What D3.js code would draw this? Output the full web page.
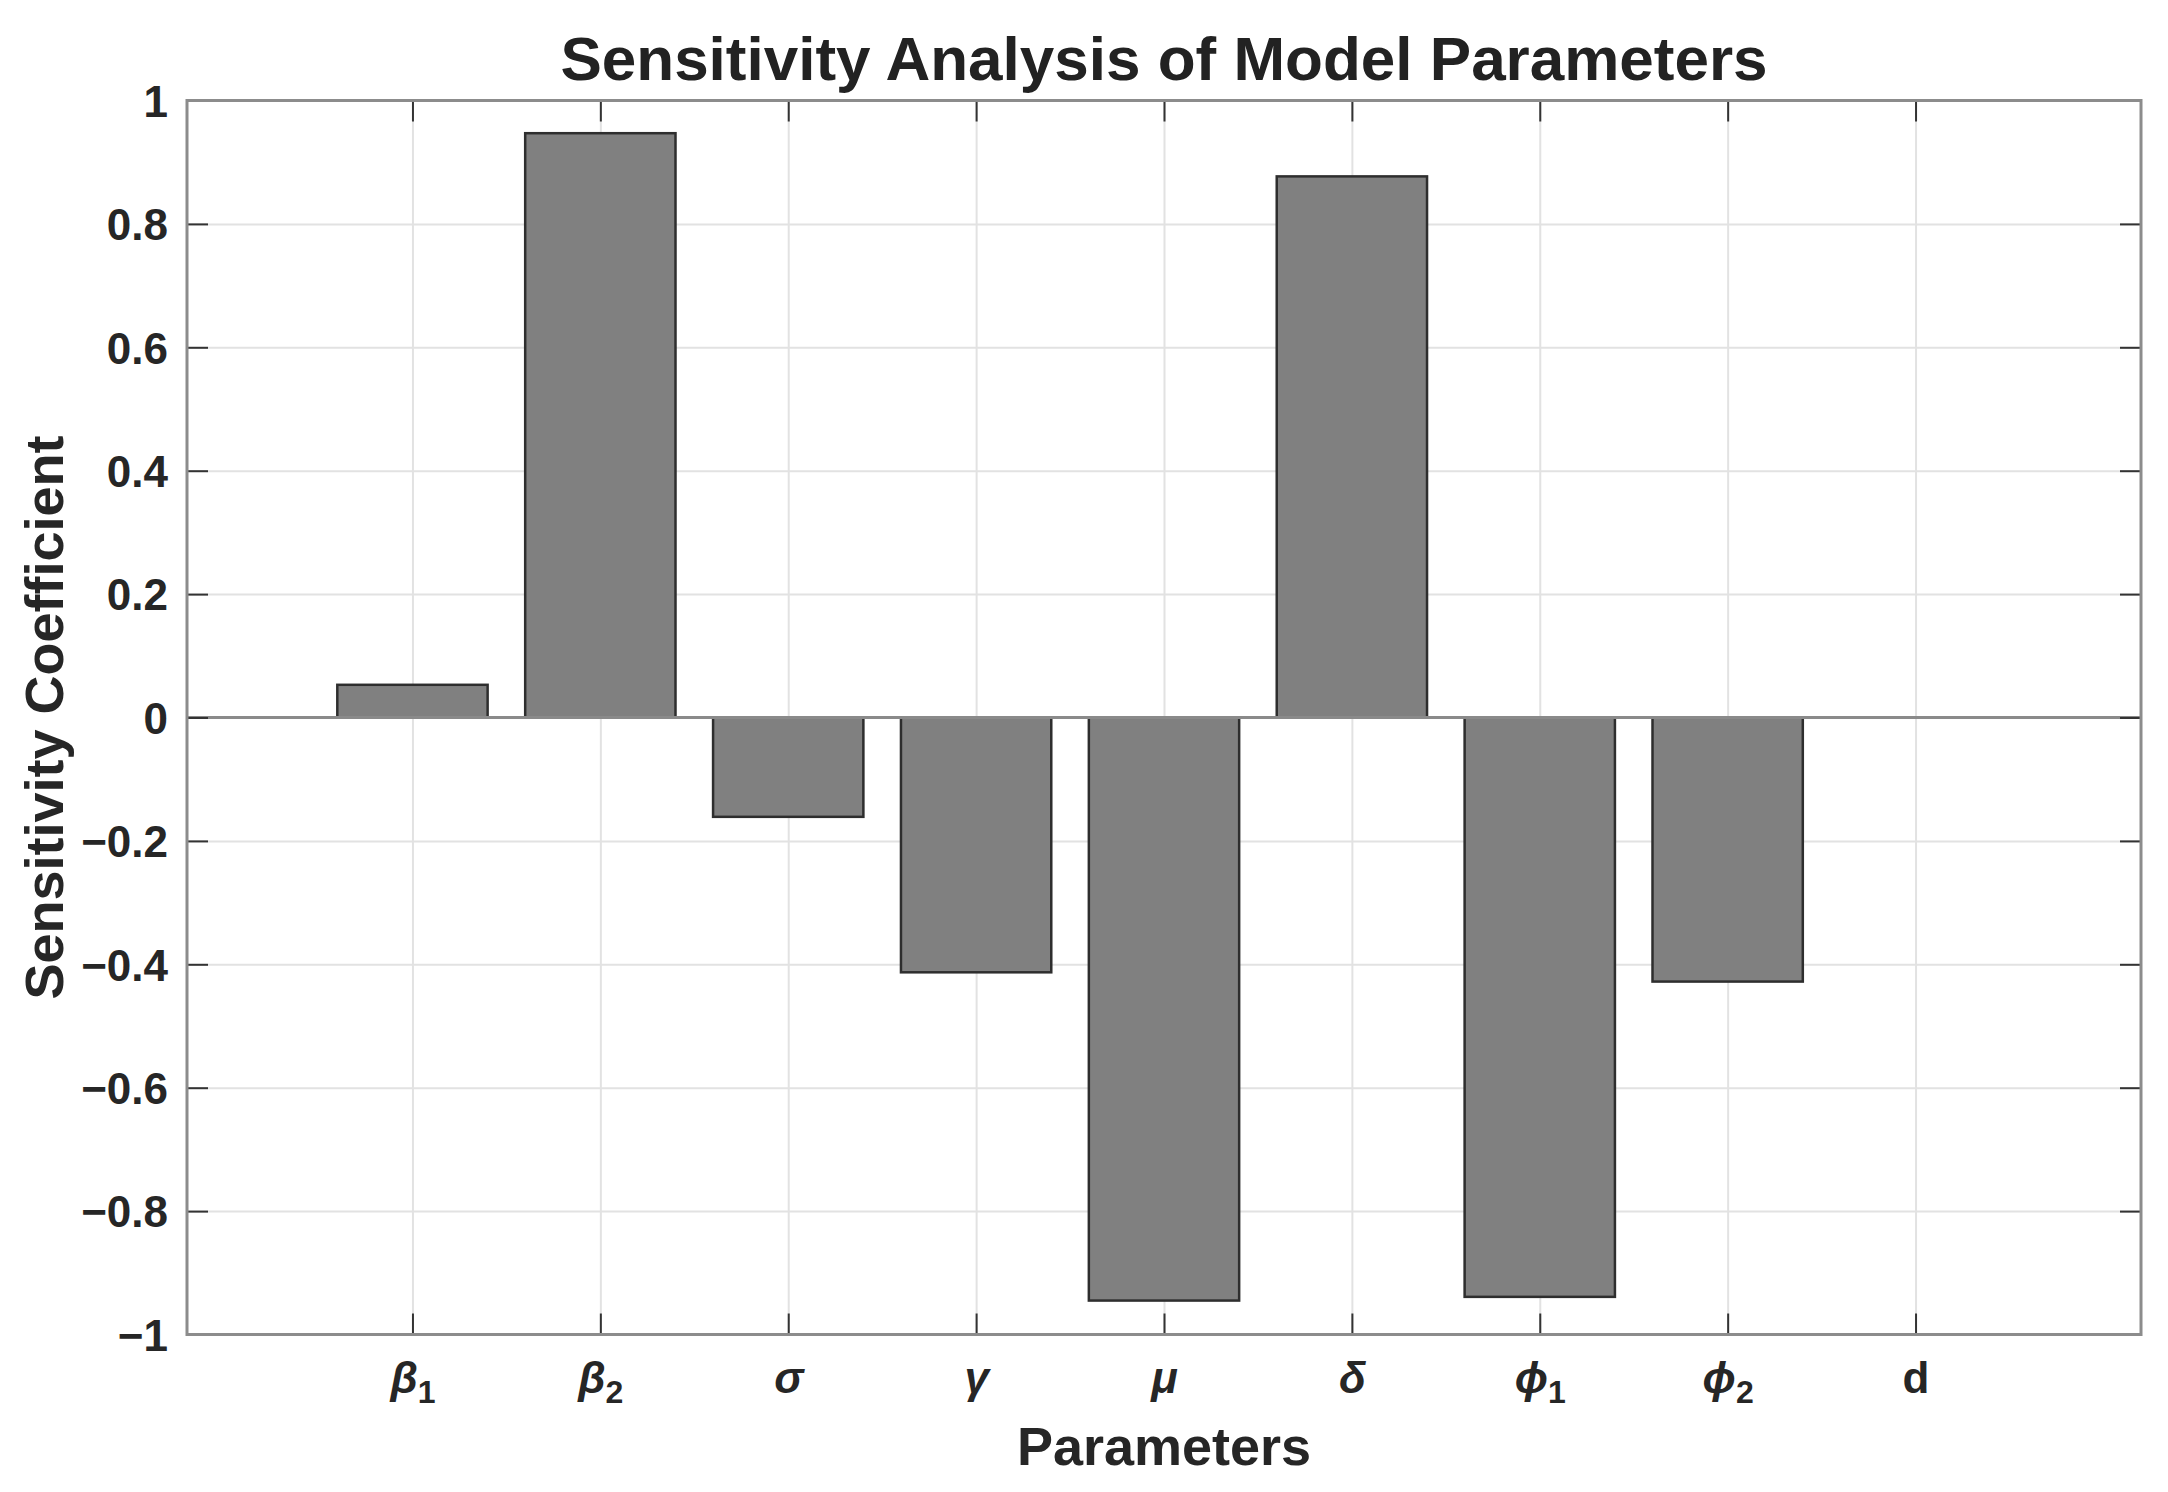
<!DOCTYPE html>
<html lang="en">
<head>
    <meta charset="UTF-8">
    <title>Sensitivity Analysis of Model Parameters</title>
    <script src="https://d3js.org/d3.v7.min.js"></script>
    <style>
        body {
            margin: 0;
            background: #ffffff;
        }

        svg {
            font-family: "Liberation Sans", Arial, Helvetica, sans-serif;
            font-weight: bold;
        }

        .grid line {
            stroke: #e2e2e2;
            stroke-width: 2px;
        }

        .grid path {
            display: none;
        }

        .ticks line {
            stroke: #333333;
            stroke-width: 2px;
        }

        .ticks path {
            display: none;
        }

        .tick-label {
            font-size: 44px;
            fill: #262626;
        }

        .bar {
            fill: #808080;
            stroke: #2e2e2e;
            stroke-width: 2.5px;
        }
    </style>
</head>
<body>
    <div id="chart"></div>

    <script>
        // Parameters along the x axis (symbol + subscript)
        const paramSymbols = ["β", "β", "σ", "γ", "μ", "δ", "ϕ", "ϕ", "d"];
        const paramSubscripts = ["1", "2", "", "", "", "", "1", "2", ""];
        const paramItalic = [true, true, true, true, true, true, true, true, false];

        // Sensitivity coefficient per parameter
        const sensitivity = [0.053, 0.947, -0.161, -0.413, -0.945, 0.877, -0.939, -0.428, 0];

        // Y axis ticks
        const yTicks = [-1, -0.8, -0.6, -0.4, -0.2, 0, 0.2, 0.4, 0.6, 0.8, 1];

        const totalWidth = 2168;
        const totalHeight = 1492;
        const margin = { top: 100.5, right: 27, bottom: 157.5, left: 187 };
        const width = totalWidth - margin.left - margin.right;
        const height = totalHeight - margin.top - margin.bottom;

        const data = sensitivity.map((v, i) => ({
            pos: i + 1,
            value: v,
            symbol: paramSymbols[i],
            sub: paramSubscripts[i],
            italic: paramItalic[i]
        }));

        const svg = d3.select("#chart")
            .append("svg")
            .attr("width", totalWidth)
            .attr("height", totalHeight);

        const g = svg.append("g")
            .attr("transform", `translate(${margin.left},${margin.top})`);

        // Scales
        const x = d3.scaleLinear().domain([-0.2, 10.2]).range([0, width]);
        const y = d3.scaleLinear().domain([-1, 1]).range([height, 0]);
        const barWidth = x(0.8) - x(0);

        // Grid lines
        g.append("g")
            .attr("class", "grid")
            .call(d3.axisLeft(y).tickValues(yTicks).tickSize(-width).tickFormat(""));

        g.append("g")
            .attr("class", "grid")
            .attr("transform", `translate(0,${height})`)
            .call(d3.axisBottom(x).tickValues(data.map(d => d.pos)).tickSize(-height).tickFormat(""));

        // Bars
        g.selectAll(".bar")
            .data(data.filter(d => d.value !== 0))
            .enter()
            .append("rect")
            .attr("class", "bar")
            .attr("x", d => x(d.pos) - barWidth / 2)
            .attr("width", barWidth)
            .attr("y", d => y(Math.max(0, d.value)))
            .attr("height", d => Math.abs(y(d.value) - y(0)));

        // Bar baseline
        g.append("line")
            .attr("x1", 0)
            .attr("x2", width)
            .attr("y1", y(0))
            .attr("y2", y(0))
            .attr("stroke", "#8a8a8a")
            .attr("stroke-width", 3);

        // Ticks on all four sides (pointing inward)
        const yFmt = d => d === 0 ? "0" : d3.format("~g")(d);

        const yAxis = g.append("g")
            .attr("class", "ticks")
            .call(d3.axisLeft(y).tickValues(yTicks).tickSizeInner(-21).tickSizeOuter(0).tickPadding(19).tickFormat(yFmt));
        yAxis.selectAll("text")
            .attr("class", "tick-label")
            .attr("dy", "0.36em");

        g.append("g")
            .attr("class", "ticks")
            .attr("transform", `translate(${width},0)`)
            .call(d3.axisRight(y).tickValues(yTicks).tickSizeInner(-21).tickSizeOuter(0).tickFormat(""));

        g.append("g")
            .attr("class", "ticks")
            .call(d3.axisTop(x).tickValues(data.map(d => d.pos)).tickSizeInner(-21).tickSizeOuter(0).tickFormat(""));

        const xAxis = g.append("g")
            .attr("class", "ticks")
            .attr("transform", `translate(0,${height})`)
            .call(d3.axisBottom(x).tickValues(data.map(d => d.pos)).tickSizeInner(-21).tickSizeOuter(0).tickFormat(""));

        // x tick labels with italic symbols and subscripts
        xAxis.selectAll(".tick")
            .data(data)
            .each(function (d) {
                const t = d3.select(this).append("text")
                    .attr("class", "tick-label")
                    .attr("y", 58)
                    .attr("text-anchor", "middle");
                t.append("tspan")
                    .attr("font-style", d.italic ? "italic" : "normal")
                    .text(d.symbol);
                if (d.sub) {
                    t.append("tspan")
                        .attr("font-size", "32px")
                        .attr("dy", 10)
                        .text(d.sub);
                }
            });

        // Axes box
        g.append("rect")
            .attr("x", 0)
            .attr("y", 0)
            .attr("width", width)
            .attr("height", height)
            .attr("fill", "none")
            .attr("stroke", "#8c8c8c")
            .attr("stroke-width", 3);

        // Title
        svg.append("text")
            .attr("x", margin.left + width / 2)
            .attr("y", 80)
            .attr("text-anchor", "middle")
            .attr("font-size", "62px")
            .attr("fill", "#222222")
            .text("Sensitivity Analysis of Model Parameters");

        // X axis label
        svg.append("text")
            .attr("x", margin.left + width / 2)
            .attr("y", 1465)
            .attr("text-anchor", "middle")
            .attr("font-size", "54px")
            .attr("fill", "#262626")
            .text("Parameters");

        // Y axis label
        svg.append("text")
            .attr("transform", `translate(63,${margin.top + height / 2}) rotate(-90)`)
            .attr("text-anchor", "middle")
            .attr("font-size", "54px")
            .attr("fill", "#262626")
            .text("Sensitivity Coefficient");
    </script>
</body>
</html>
